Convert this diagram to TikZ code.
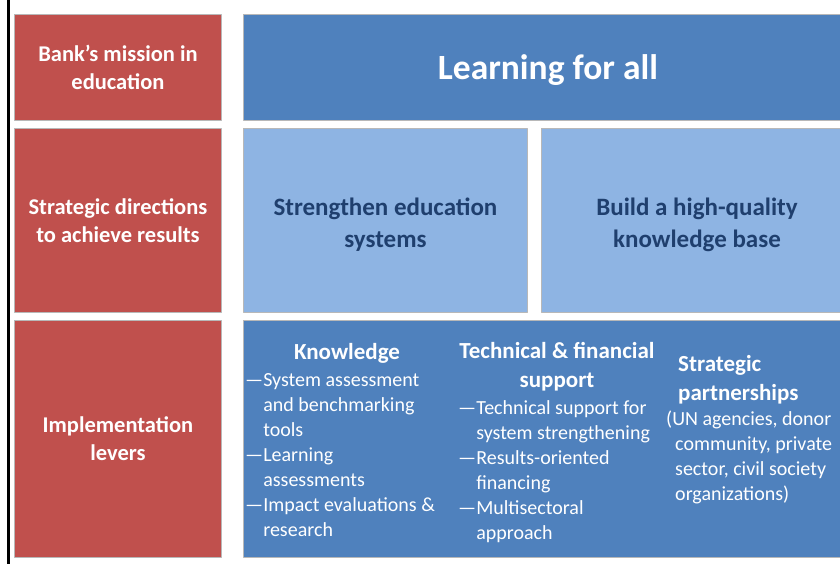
\documentclass[tikz,border=0pt]{standalone}
\usepackage{fontspec}
\setmainfont{Carlito}

\definecolor{levred}{HTML}{C0504D}
\definecolor{levblue}{HTML}{4F81BD}
\definecolor{levlight}{HTML}{8EB4E3}
\definecolor{levnavy}{HTML}{1F3F6E}

\begin{document}
\begin{tikzpicture}[x=1pt, y=-1pt, line join=round,
  box/.style={draw=black!28, line width=0.9pt, anchor=north west, inner sep=0pt, align=center},
  redbox/.style={box, fill=levred, text=white, font=\fontsize{22.5}{28}\selectfont\bfseries},
  bluebox/.style={box, fill=levblue, text=white},
  lightbox/.style={box, fill=levlight, text=levnavy, font=\fontsize{25}{32}\selectfont\bfseries},
  head/.style={inner sep=0pt, text=white, font=\fontsize{23}{29}\selectfont\bfseries},
  body/.style={inner sep=0pt, anchor=north west, align=left, text=white, font=\fontsize{20}{25}\selectfont}]

  %% ════ 左边的黑竖线 ════
  \draw[line width=2.5pt] (8.5,0) -- (8.5,564);

  %% ════ 左列：红色框 ════
  \node[redbox, minimum width=207, minimum height=106] (mission) at (14,14) {Bank's mission in\\education};
  \node[redbox, minimum width=207, minimum height=184] (directions) at (14,128) {Strategic directions\\to achieve results};
  \node[redbox, minimum width=207, minimum height=237] (levers) at (14,320) {Implementation\\levers};

  %% ════ 右侧：蓝色框 ════
  \node[bluebox, minimum width=609, minimum height=106, text depth=0pt, font=\fontsize{35.5}{40}\selectfont\bfseries] (learning) at (243,14) {Learning for all};
  \node[lightbox, minimum width=284, minimum height=184] (systems) at (243,128) {\rule{0pt}{27pt}Strengthen education\\systems};
  \node[lightbox, minimum width=311, minimum height=184] (kbase) at (541,128) {\rule{0pt}{27pt}Build a high-quality\\knowledge base};
  \node[bluebox, minimum width=609, minimum height=237] (levbox) at (243,320) {};

  %% ════ 三个 lever 的文字 ════
  \node[head] (know) at (347,353) {Knowledge};
  \node[body] (knowtxt) at (245,373.5) {---System assessment\\
    \hphantom{---}and benchmarking\\
    \hphantom{---}tools\\
    ---Learning\\
    \hphantom{---}assessments\\
    ---Impact evaluations \&\\
    \hphantom{---}research};

  \node[head, align=center] (tech) at (557,366.5) {Technical \& financial\\support};
  \node[body] (techtxt) at (458,400.5) {---Technical support for\\
    \hphantom{---}system strengthening\\
    ---Results-oriented\\
    \hphantom{---}financing\\
    ---Multisectoral\\
    \hphantom{---}approach};

  \node[head, anchor=north west, align=left] (partner) at (678,355) {Strategic\\partnerships};
  \node[body] (partnertxt) at (666,410.5) {(UN agencies, donor\\
    \hspace*{9pt}community, private\\
    \hspace*{9pt}sector, civil society\\
    \hspace*{9pt}organizations)};

  % 画布固定为 840 x 564
  \pgfresetboundingbox
  \path[use as bounding box] (0,0) rectangle (840,564);
\end{tikzpicture}
\end{document}
